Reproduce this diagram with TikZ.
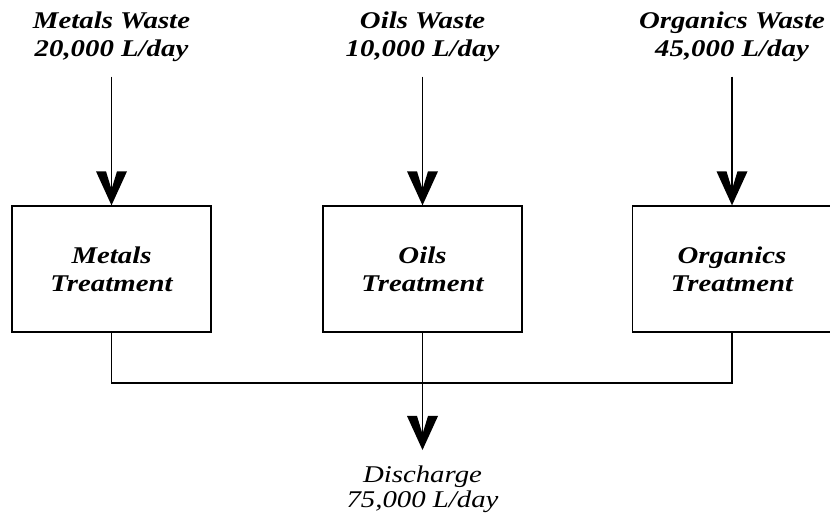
\documentclass[tikz,border=0pt]{standalone}
\usepackage{fontspec}
\usetikzlibrary{arrows.meta}
\newfontfamily\flowfont[FakeStretch=1.2]{Liberation Serif}

% Filled open chevron used on every flow line
\pgfdeclarearrow{
  name = Chevron,
  setup code = {
    \pgfarrowssettipend{0pt}
    \pgfarrowssetlineend{-2pt}
    \pgfarrowssetbackend{-34pt}
    \pgfarrowshullpoint{0pt}{0pt}
    \pgfarrowshullpoint{-34pt}{15.5pt}
    \pgfarrowshullpoint{-34pt}{-15.5pt}
  },
  drawing code = {
    \pgfpathmoveto{\pgfpoint{0pt}{0pt}}
    \pgfpathlineto{\pgfpoint{-34pt}{15.5pt}}
    \pgfpathlineto{\pgfpoint{-34pt}{5.5pt}}
    \pgfpathlineto{\pgfpoint{-16pt}{0pt}}
    \pgfpathlineto{\pgfpoint{-34pt}{-5.5pt}}
    \pgfpathlineto{\pgfpoint{-34pt}{-15.5pt}}
    \pgfpathclose
    \pgfusepathqfill
  }
}

\tikzset{
  label/.style={inner sep=0pt, align=center,
    font=\flowfont\bfseries\itshape\fontsize{24}{27.5}\selectfont},
  outlabel/.style={inner sep=0pt, align=center,
    font=\flowfont\itshape\fontsize{24}{25}\selectfont},
  unit/.style={draw, line width=1.3pt, minimum width=199pt, minimum height=126pt,
    inner sep=0pt, align=center,
    font=\flowfont\bfseries\itshape\fontsize{24}{28}\selectfont},
  feed/.style={line width=1.3pt, -Chevron, shorten <=15pt},
  link/.style={line width=1.3pt},
}

\begin{document}
\begin{tikzpicture}[x=1pt,y=-1pt]
  \useasboundingbox[fill=white] (0,0) rectangle (830,518);

  % waste streams
  \node[label, anchor=north] (mw) at (111.5,12) {Metals Waste\\20,000 L/day};
  \node[label, anchor=north] (ow) at (422.5,12) {Oils Waste\\10,000 L/day};
  \node[label, anchor=north] (gw) at (732,12) {Organics Waste\\45,000 L/day};

  % treatment units
  \node[unit] (mt) at (111.5,269) {Metals\\Treatment};
  \node[unit] (ot) at (422.5,269) {Oils\\Treatment};
  \node[unit] (gt) at (732,269) {Organics\\Treatment};

  % combined discharge
  \node[outlabel, anchor=north] (dis) at (422.5,466) {Discharge\\75,000 L/day};
  \coordinate (bus) at (422.5,383);

  \draw[feed] (mw.south) -- (mt.north);
  \draw[feed] (ow.south) -- (ot.north);
  \draw[feed] (gw.south) -- (gt.north);

  \draw[link] (mt.south) |- (bus) -| (gt.south);
  \draw[link, -Chevron, shorten >=16pt] (ot.south) -- (dis.north);
\end{tikzpicture}
\end{document}
